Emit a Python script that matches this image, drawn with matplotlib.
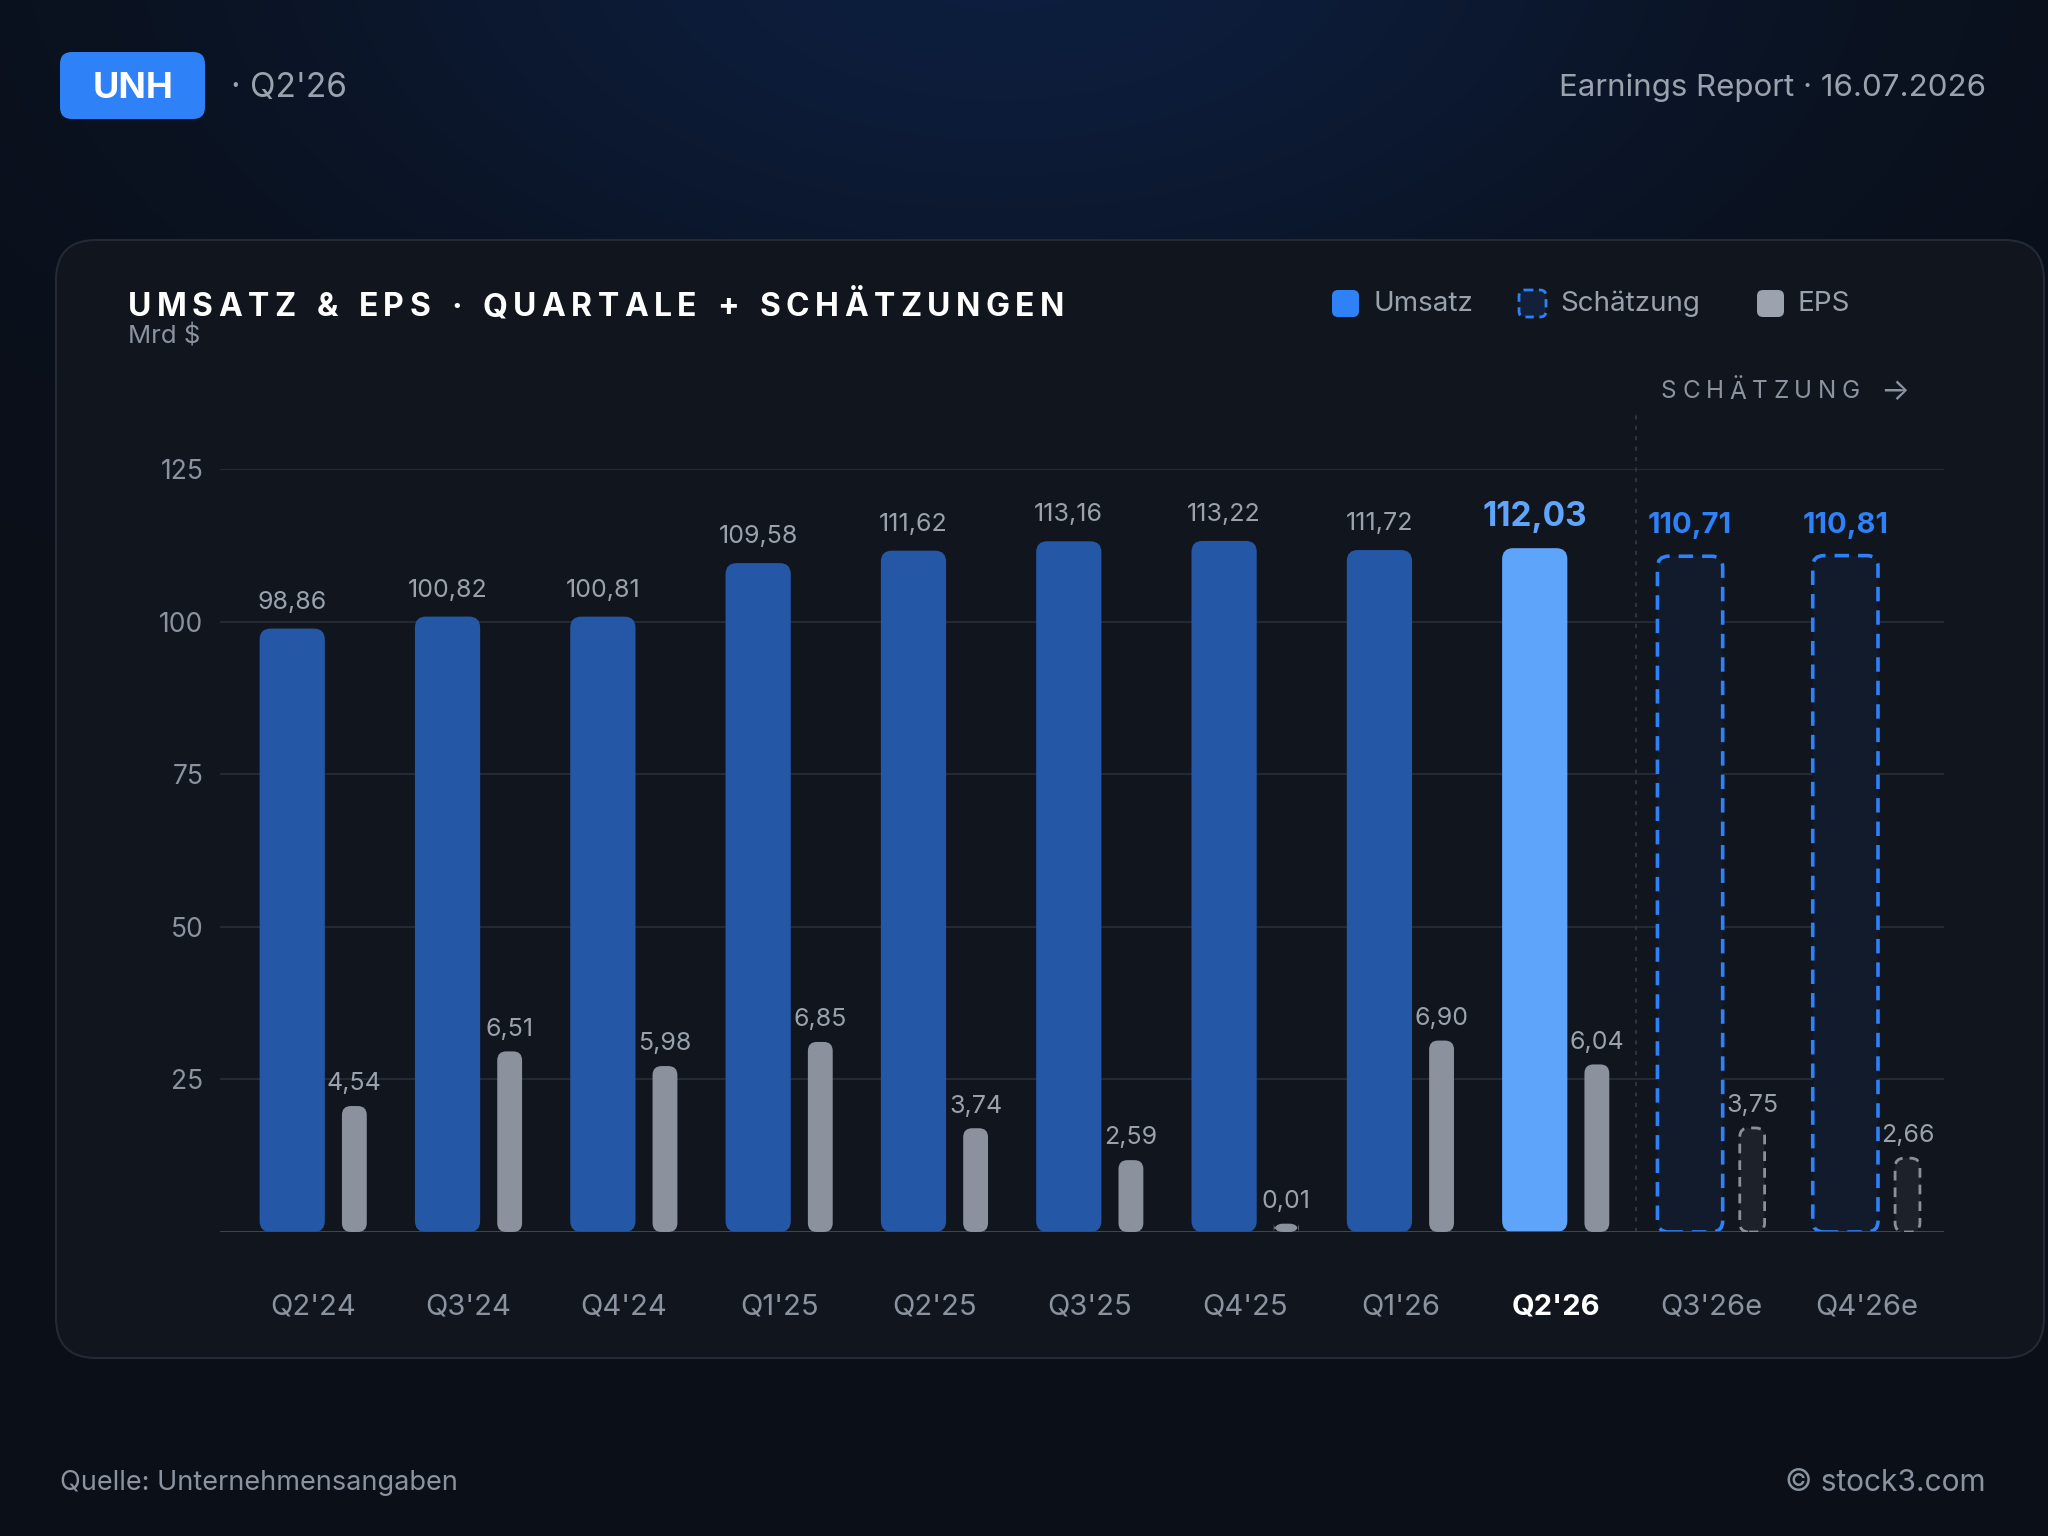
import numpy as np
import matplotlib
matplotlib.use("Agg")
import matplotlib.pyplot as plt
from matplotlib.patches import FancyBboxPatch

plt.rcParams['font.family'] = ['Inter', 'DejaVu Sans']

# data
quarters = ["Q2'24", "Q3'24", "Q4'24", "Q1'25", "Q2'25", "Q3'25", "Q4'25",
            "Q1'26", "Q2'26", "Q3'26e", "Q4'26e"]
revenue = [98.86, 100.82, 100.81, 109.58, 111.62, 113.16, 113.22, 111.72, 112.03, 110.71, 110.81]
eps = [4.54, 6.51, 5.98, 6.85, 3.74, 2.59, 0.01, 6.90, 6.04, 3.75, 2.66]
is_estimate = [False] * 9 + [True] * 2
current = 8
yticks = [25, 50, 75, 100, 125]

W, H = 2048, 1536
fig = plt.figure(figsize=(W / 100, H / 100), dpi=100)

# background (pixel coordinates)
bg = fig.add_axes([0, 0, 1, 1], zorder=0)
bg.set_xlim(0, W)
bg.set_ylim(H, 0)
bg.axis('off')

yy, xx = np.mgrid[0:H:4, 0:W:4]
glow = np.exp(-((xx - 1000) / 750.0) ** 2 - ((yy + 60) / 420.0) ** 2)
base = np.array([10, 15, 24]) / 255.0
tint = np.array([13, 30, 62]) / 255.0
img = base + glow[..., None] * (tint - base)
bg.imshow(img, extent=(0, W, H, 0), aspect='auto', interpolation='bilinear')

card = FancyBboxPatch((56, 240), 1988, 1118, boxstyle="round,pad=0,rounding_size=40",
                      fc='#10151e', ec='#232a36', lw=1.5)
bg.add_patch(card)

# header
badge = FancyBboxPatch((60, 52), 145, 67, boxstyle="round,pad=0,rounding_size=12",
                       fc='#2f81f7', ec='none')
bg.add_patch(badge)
bg.text(133, 88, 'UNH', color='white', fontsize=26, fontweight='bold', ha='center', va='center')
bg.text(231, 88, "· Q2'26", color='#9aa2ad', fontsize=24, ha='left', va='center')
bg.text(1986, 88, 'Earnings Report · 16.07.2026', color='#9aa2ad', fontsize=22.5, ha='right', va='center')

renderer = fig.canvas.get_renderer()


def spaced(x, y, s, width, **kw):
    ws = []
    for c in s:
        t = bg.text(0, 0, 'n' if c == ' ' else c, **kw)
        w = t.get_window_extent(renderer).width
        ws.append(w * 0.5 if c == ' ' else w)
        t.remove()
    gap = (width - sum(ws)) / (len(s) - 1)
    for c, w in zip(s, ws):
        if c != ' ':
            bg.text(x, y, c, ha='left', va='center', **kw)
        x += w + gap


spaced(128, 308, 'UMSATZ & EPS · QUARTALE + SCHÄTZUNGEN', 936,
       color='white', fontsize=23, fontweight='bold')
bg.text(128, 337, 'Mrd $', color='#8b93a0', fontsize=18.5, ha='left', va='center')

# legend
leg = [(1332, 'Umsatz', dict(fc='#2f81f7', ec='none')),
       (1519, 'Schätzung', dict(fc='#13203a', ec='#2f81f7', lw=2, ls=(0, (3, 2)))),
       (1757, 'EPS', dict(fc='#9ca3af', ec='none'))]
for lx, lab, st in leg:
    bg.add_patch(FancyBboxPatch((lx, 290), 27, 27, boxstyle="round,pad=0,rounding_size=6", **st))
    bg.text(lx + 41, 304, lab, color='#9aa2ad', fontsize=20, ha='left', va='center')

spaced(1661, 392, 'SCHÄTZUNG', 199, color='#8b93a0', fontsize=17.5)
bg.text(1895, 392, '→', color='#8b93a0', fontsize=22, ha='center', va='center')

# footer
bg.text(60, 1483, 'Quelle: Unternehmensangaben', color='#8b93a0', fontsize=19.5, ha='left', va='center')
bg.text(1986, 1483, '© stock3.com', color='#8b93a0', fontsize=21.5, ha='right', va='center')

# chart axes
x0, x1, ytop, ybot = 220, 1944, 469, 1232
ax = fig.add_axes([x0 / W, 1 - ybot / H, (x1 - x0) / W, (ybot - ytop) / H], zorder=1)
ax.patch.set_alpha(0)
ax.set_xlim(-0.6, 10.5)
ax.set_ylim(0, 125)
ax2 = ax.twinx()
ax2.set_ylim(0, 27.5)
ax2.axis('off')
for s in ax.spines.values():
    s.set_visible(False)

pxx = (x1 - x0) / 11.1
aspect_rev = pxx / ((ybot - ytop) / 125)
aspect_eps = pxx / ((ybot - ytop) / 27.5)

for y in yticks:
    ax.axhline(y, color='#232a35', lw=1.5, zorder=0)
ax.axhline(0, color='#454b56', lw=2, zorder=3)
ax.set_yticks(yticks)
ax.set_yticklabels([str(v) for v in yticks])
ax.tick_params(axis='y', length=0, pad=12, labelsize=19, labelcolor='#8b93a0')
ax.set_xticks([])

ax.plot([8.52, 8.52], [0, 134.5], ls=(0, (2, 3)), color='#2c333e', lw=1.5, clip_on=False, zorder=0)

x = np.arange(len(quarters))
MIN_EPS = 0.3


def fmt(v):
    return f'{v:.2f}'.replace('.', ',')


rev_bars = ax.bar(x - 0.135, revenue, width=0.42)
eps_bars = ax2.bar(x + 0.265, [max(v, MIN_EPS) for v in eps], width=0.16)

for i, r in enumerate(rev_bars):
    r.set_visible(False)
    if is_estimate[i]:
        st = dict(fc='#111b2c', ec='#2f81f7', lw=2.6, ls=(0, (4, 2.5)))
    elif i == current:
        st = dict(fc='#5fa4fb', ec='none')
    else:
        st = dict(fc='#2458a6', ec='none')
    ax.add_patch(FancyBboxPatch((r.get_x(), 0), r.get_width(), r.get_height(),
                                boxstyle=f"round,pad=0,rounding_size={11 / pxx}",
                                mutation_aspect=aspect_rev, zorder=2, **st))
    if is_estimate[i]:
        ax.annotate(fmt(revenue[i]), (r.get_x() + r.get_width() / 2, revenue[i]), xytext=(0, 22),
                    textcoords='offset points', ha='center', va='center',
                    color='#2f81f7', fontsize=21, fontweight='bold', annotation_clip=False)
    elif i == current:
        ax.annotate(fmt(revenue[i]), (r.get_x() + r.get_width() / 2, revenue[i]), xytext=(0, 22.5),
                    textcoords='offset points', ha='center', va='center',
                    color='#60a5fa', fontsize=24, fontweight='bold', annotation_clip=False)
    else:
        ax.annotate(fmt(revenue[i]), (r.get_x() + r.get_width() / 2, revenue[i]), xytext=(0, 19),
                    textcoords='offset points', ha='center', va='center',
                    color='#9aa2ad', fontsize=18, annotation_clip=False)

for i, r in enumerate(eps_bars):
    r.set_visible(False)
    if is_estimate[i]:
        st = dict(fc='#1d2129', ec='#8a919c', lw=2, ls=(0, (3.5, 2.5)))
    else:
        st = dict(fc='#8b929d', ec='none')
    ax2.add_patch(FancyBboxPatch((r.get_x(), 0), r.get_width(), r.get_height(),
                                 boxstyle=f"round,pad=0,rounding_size={9 / pxx}",
                                 mutation_aspect=aspect_eps, zorder=2, **st))
    ax2.annotate(fmt(eps[i]), (r.get_x() + r.get_width() / 2, r.get_height()), xytext=(0, 16),
                 textcoords='offset points', ha='center', va='center',
                 color='#9aa2ad', fontsize=18, annotation_clip=False)

for i, q in enumerate(quarters):
    ax.annotate(q, (i, 0), xytext=(0, -54), textcoords='offset points', ha='center', va='center',
                color='white' if i == current else '#8b93a0', fontsize=21,
                fontweight='bold' if i == current else 'normal', annotation_clip=False)

fig.savefig('out.png', dpi=100, facecolor='#0a0f18')
